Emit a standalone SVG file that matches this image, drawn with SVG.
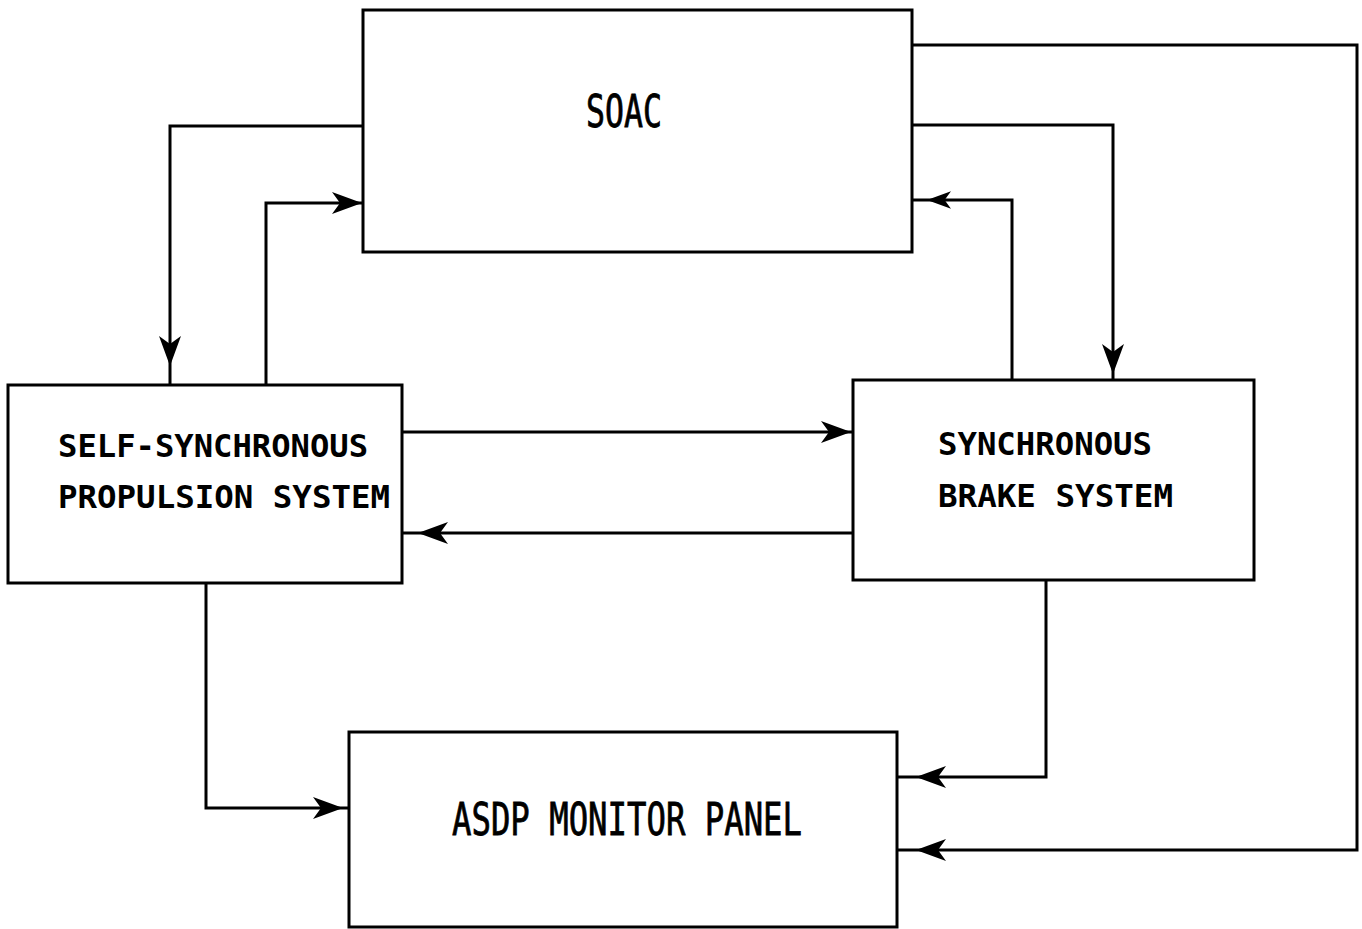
<svg xmlns="http://www.w3.org/2000/svg" width="1362" height="929" viewBox="0 0 1362 929">
<style>
.box{fill:#fff;stroke:#000;stroke-width:3}
.ln{fill:none;stroke:#000;stroke-width:3}
.t{font-family:"DejaVu Sans Mono","Liberation Mono",monospace;font-size:32px;font-weight:bold;fill:#000}
.tb{font-family:"DejaVu Sans Mono","Liberation Mono",monospace;font-size:44px;fill:#000;stroke:#000;stroke-width:0.8}
</style>
<defs>
<path id="ah" d="M0,0 L-30,-11 L-22,0 L-30,11 Z" fill="#000"/>
</defs>
<rect width="1362" height="929" fill="#fff"/>
<g id="connectors">
<polyline class="ln" points="363,126 170,126 170,385"/>
<polyline class="ln" points="266,385 266,203 363,203"/>
<polyline class="ln" points="912,125 1113,125 1113,380"/>
<polyline class="ln" points="1012,380 1012,200 912,200"/>
<polyline class="ln" points="402,432 853,432"/>
<polyline class="ln" points="853,533 402,533"/>
<polyline class="ln" points="206,583 206,808 349,808"/>
<polyline class="ln" points="1046,580 1046,777 897,777"/>
<polyline class="ln" points="912,45 1357,45 1357,850 897,850"/>
<use href="#ah" transform="translate(170,366) rotate(90)"/>
<use href="#ah" transform="translate(362,203)"/>
<use href="#ah" transform="translate(1113,374) rotate(90)"/>
<use href="#ah" transform="translate(927,200) rotate(180) scale(0.8)"/>
<use href="#ah" transform="translate(851,432)"/>
<use href="#ah" transform="translate(418,533) rotate(180)"/>
<use href="#ah" transform="translate(343,808)"/>
<use href="#ah" transform="translate(916,777) rotate(180)"/>
<use href="#ah" transform="translate(916,850) rotate(180)"/>
</g>
<g id="soac">
<rect class="box" x="363" y="10" width="549" height="242"/>
<text class="tb" x="586" y="127" textLength="76" lengthAdjust="spacingAndGlyphs">SOAC</text>
</g>
<g id="propulsion">
<rect class="box" x="8" y="385" width="394" height="198"/>
<text class="t" x="58" y="457" textLength="310" lengthAdjust="spacingAndGlyphs">SELF-SYNCHRONOUS</text>
<text class="t" x="58" y="508" textLength="332" lengthAdjust="spacingAndGlyphs">PROPULSION SYSTEM</text>
</g>
<g id="brake">
<rect class="box" x="853" y="380" width="401" height="200"/>
<text class="t" x="938" y="455" textLength="214" lengthAdjust="spacingAndGlyphs">SYNCHRONOUS</text>
<text class="t" x="938" y="507" textLength="235" lengthAdjust="spacingAndGlyphs">BRAKE SYSTEM</text>
</g>
<g id="asdp">
<rect class="box" x="349" y="732" width="548" height="195"/>
<text class="tb" x="452" y="835" textLength="350" lengthAdjust="spacingAndGlyphs">ASDP MONITOR PANEL</text>
</g>
</svg>
